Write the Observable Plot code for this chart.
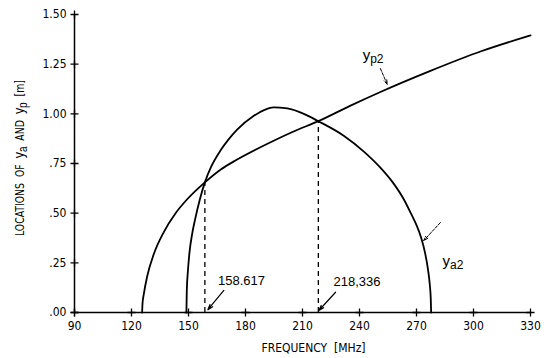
<!DOCTYPE html>
<html>
<head>
<meta charset="utf-8">
<script src="https://cdn.jsdelivr.net/npm/d3@7"></script>
<script src="https://cdn.jsdelivr.net/npm/@observablehq/plot@0.6"></script>
<style>
  html, body { margin: 0; padding: 0; background: #fff; }
  #chart { width: 553px; height: 358px; }
</style>
</head>
<body>
<div id="chart"></div>
<script>
// ---- data ----
const freqTicks = [90, 120, 150, 180, 210, 240, 270, 300, 330];
const yTicks = [0, 0.25, 0.5, 0.75, 1.0, 1.25, 1.5];
const yTickLabels = [".00", ".25", ".50", ".75", "1.00", "1.25", "1.50"];

const yp2Freq = [125.6, 125.8, 126.5, 128.3, 131.7, 137.0, 143.2, 149.3, 158.617, 167.0, 175.6, 193.2, 205.0, 218.336, 235.0, 251.0, 277.0, 304.0, 330.0];
const yp2Val  = [0.0, 0.045, 0.094, 0.184, 0.293, 0.405, 0.50, 0.57, 0.655, 0.72, 0.77, 0.857, 0.91, 0.963, 1.04, 1.11, 1.215, 1.315, 1.395];

const ya2Freq = [148.9, 149.1, 149.7, 150.5, 152.0, 153.5, 156.0, 158.617, 162.0, 166.8, 171.0, 175.6, 184.4, 190.0, 194.7, 202.0, 210.7, 218.336, 231.7, 242.3, 251.1, 257.5, 263.3, 267.0, 270.0, 272.5, 274.5, 276.0, 277.0, 277.5, 277.7];
const ya2Val  = [0.0, 0.11, 0.21, 0.30, 0.40, 0.47, 0.57, 0.655, 0.735, 0.815, 0.87, 0.92, 0.99, 1.02, 1.033, 1.027, 1.0, 0.963, 0.89, 0.81, 0.728, 0.655, 0.57, 0.50, 0.44, 0.375, 0.30, 0.22, 0.14, 0.07, 0.0];

const crossFreq = [158.617, 218.336];
const crossVal = [0.655, 0.963];
const crossLabels = ["158.617", "218,336"];

// annotation placements (data units)
const crossLabelPos = [[177.9, 0.158], [238.7, 0.152]];
const crossArrowFrom = [[168.6, 0.111], [227.4, 0.102]];
const crossArrowTo = [[160.2, 0.014], [218.6, 0.010]];

const curveNames = ["p2", "a2"];
const curveLabelPos = [[247.4, 1.283], [289.5, 0.247]];
const curveArrowFrom = [[251.0, 1.228], [282.6, 0.453]];
const curveArrowTo = [[254.6, 1.148], [273.8, 0.362]];

const xTitle = "FREQUENCY  [MHz]";

// ---- tables ----
const yp2 = yp2Freq.map((f, i) => ({f, v: yp2Val[i]}));
const ya2 = ya2Freq.map((f, i) => ({f, v: ya2Val[i]}));
const cross = crossFreq.map((f, i) => ({f, v: crossVal[i], label: crossLabels[i],
  lx: crossLabelPos[i][0], ly: crossLabelPos[i][1],
  x1: crossArrowFrom[i][0], y1: crossArrowFrom[i][1], x2: crossArrowTo[i][0], y2: crossArrowTo[i][1]}));
const curveAnn = curveNames.map((n, i) => ({n,
  lx: curveLabelPos[i][0], ly: curveLabelPos[i][1],
  x1: curveArrowFrom[i][0], y1: curveArrowFrom[i][1], x2: curveArrowTo[i][0], y2: curveArrowTo[i][1]}));

const condensed = "'DejaVu Sans Condensed', 'Liberation Sans Narrow', 'DejaVu Sans', sans-serif";
const plain = "'Liberation Sans', Arial, sans-serif";

const plot = Plot.plot({
  width: 553,
  height: 358,
  marginLeft: 74,
  marginRight: 23,
  marginTop: 14,
  marginBottom: 46,
  x: {domain: [freqTicks[0], freqTicks[freqTicks.length - 1]]},
  y: {domain: [yTicks[0], yTicks[yTicks.length - 1]]},
  style: {fontFamily: condensed, fontSize: "12px", color: "black", background: "white", overflow: "visible"},
  marks: [
    // axis lines
    Plot.ruleY([yTicks[0]], {x1: freqTicks[0], x2: freqTicks[freqTicks.length - 1], stroke: "black", strokeWidth: 1.5}),
    Plot.ruleX([freqTicks[0]], {y1: yTicks[0], y2: yTicks[yTicks.length - 1], stroke: "black", strokeWidth: 1.5}),
    // cross-shaped tick marks
    Plot.dot(freqTicks, {x: d => d, y: () => yTicks[0], symbol: "plus", r: 2.7, stroke: "black", strokeWidth: 1.3}),
    Plot.dot(yTicks, {x: () => freqTicks[0], y: d => d, symbol: "plus", r: 2.7, stroke: "black", strokeWidth: 1.3}),
    // tick labels
    Plot.axisX({ticks: freqTicks, tickSize: 0, tickPadding: 9, label: null, tickFormat: d => String(d), fontSize: 12}),
    Plot.axisY({ticks: yTicks, tickSize: 0, tickPadding: 8, label: null, tickFormat: d => yTickLabels[yTicks.indexOf(d)], fontSize: 12}),
    // dashed drop lines at the crossings
    Plot.ruleX(cross, {x: "f", y1: () => 0, y2: "v", stroke: "black", strokeWidth: 1.3, strokeDasharray: "5,4"}),
    // curves
    Plot.line(yp2, {x: "f", y: "v", curve: "monotone-x", stroke: "black", strokeWidth: 1.8}),
    Plot.line(ya2, {x: "f", y: "v", curve: "monotone-x", stroke: "black", strokeWidth: 1.8}),
    // crossing annotations
    Plot.arrow(cross, {x1: "x1", y1: "y1", x2: "x2", y2: "y2", stroke: "black", strokeWidth: 1.2, headLength: 7, headAngle: 35}),
    Plot.text(cross, {x: "lx", y: "ly", text: "label", fontFamily: plain, fontSize: 13}),
    // curve label arrows
    Plot.arrow(curveAnn, {x1: "x1", y1: "y1", x2: "x2", y2: "y2", stroke: "black", strokeWidth: 1, strokeDasharray: "3,1.5", headLength: 7, headAngle: 35}),
    // x title
    Plot.text([xTitle], {frameAnchor: "bottom", dy: 39, dx: 11, text: d => d, fontSize: 12, fontFamily: condensed})
  ]
});

const svg = d3.select(plot);
const xs = d3.scaleLinear().domain([freqTicks[0], freqTicks[freqTicks.length - 1]]).range([74, 530]);
const ys = d3.scaleLinear().domain([yTicks[0], yTicks[yTicks.length - 1]]).range([312, 14]);

// curve labels: y with subscripts
curveAnn.forEach(a => {
  const t = svg.append("text")
    .attr("x", xs(a.lx)).attr("y", ys(a.ly) + 3)
    .attr("font-family", plain)
    .attr("font-size", 15).attr("fill", "black");
  t.append("tspan").text("y");
  t.append("tspan").attr("font-size", 12).attr("dy", 3).text(a.n);
});

// y axis title with subscripts
const yt = svg.append("text")
  .attr("transform", "translate(24,158) rotate(-90)")
  .attr("text-anchor", "middle")
  .attr("font-family", condensed)
  .attr("font-size", 12.5)
  .attr("textLength", 156)
  .attr("lengthAdjust", "spacingAndGlyphs")
  .attr("fill", "black");
yt.append("tspan").text("LOCATIONS  OF  ");
yt.append("tspan").attr("font-family", plain).attr("font-size", 15).text("y");
yt.append("tspan").attr("font-family", plain).attr("font-size", 12).attr("dy", 3).text("a");
yt.append("tspan").attr("dy", -3).text("  AND  ");
yt.append("tspan").attr("font-family", plain).attr("font-size", 15).text("y");
yt.append("tspan").attr("font-family", plain).attr("font-size", 12).attr("dy", 3).text("p");
yt.append("tspan").attr("dy", -3).text("  [m]");
svg.selectAll("text").attr("xml:space", "preserve").style("white-space", "pre");

document.getElementById("chart").appendChild(plot);
</script>
</body>
</html>
